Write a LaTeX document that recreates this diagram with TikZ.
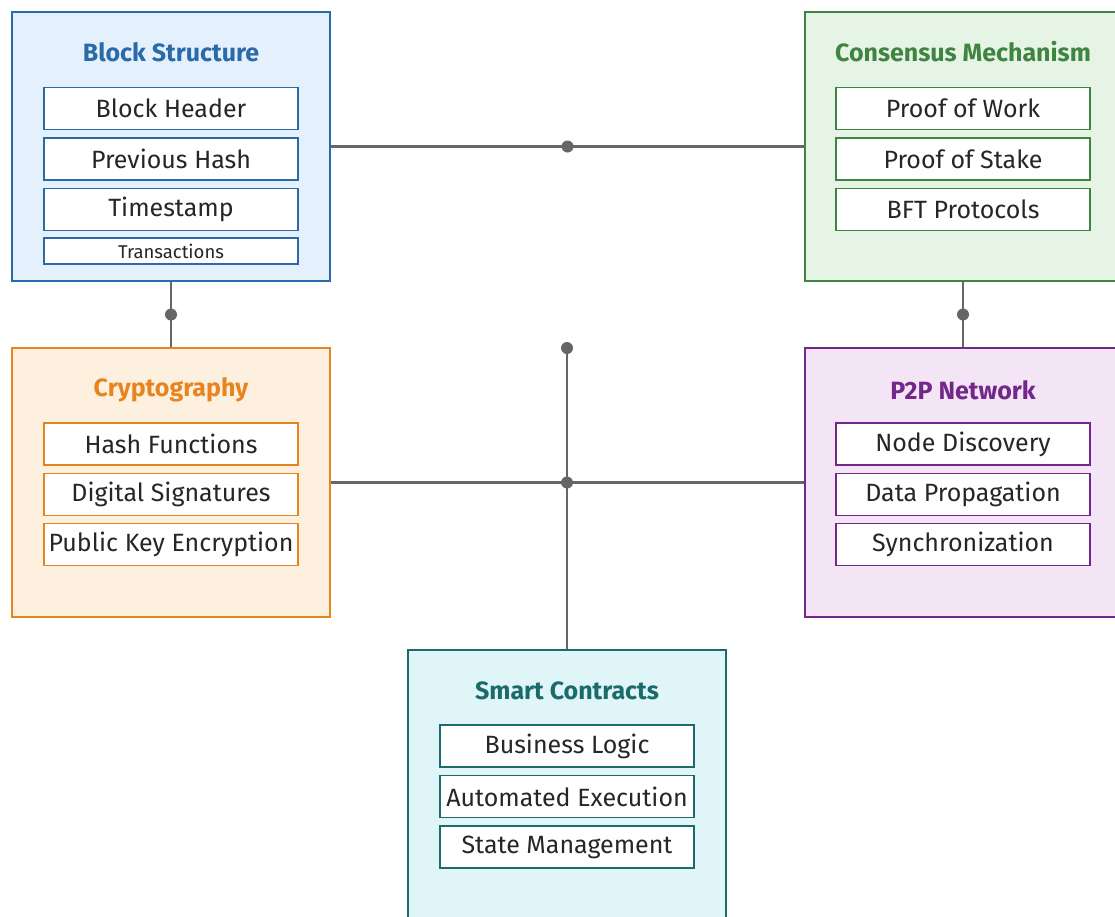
\documentclass[tikz,border=0pt]{standalone}
\usepackage{fontspec}
\setmainfont{Fira Sans}
\begin{document}
\begin{tikzpicture}[x=1pt,y=-1pt,
  box/.style={draw=#1, line width=2.6pt, minimum width=318pt, minimum height=269pt, inner sep=0pt},
  ttl/.style={text=#1, font=\fontsize{25}{28}\selectfont\bfseries, inner sep=0pt},
  item/.style={draw=#1, fill=white, line width=1.3pt, minimum width=254pt, minimum height=42pt, inner sep=0pt, font=\fontsize{25}{28}\selectfont, text=black!85},
  conn/.style={draw=black!60, line width=2.6pt},
  dot/.style={circle, fill=black!60, minimum size=12pt, inner sep=0pt}]
\definecolor{cblue}{HTML}{2A6AA8}
\definecolor{cgreen}{HTML}{3F8440}
\definecolor{corange}{HTML}{E8841F}
\definecolor{cpurple}{HTML}{74278A}
\definecolor{cteal}{HTML}{1C6B6B}
\definecolor{fblue}{HTML}{E4F0FB}
\definecolor{fgreen}{HTML}{E6F4E6}
\definecolor{forange}{HTML}{FDF0DF}
\definecolor{fpurple}{HTML}{F3E5F5}
\definecolor{fteal}{HTML}{E0F5F8}
\useasboundingbox (0,0) rectangle (1115,916);
\fill[white] (0,0) rectangle (1115,916);
\begin{scope}
\clip (0,0) rectangle (1115,916);
% boxes
\node[box=cblue, fill=fblue] (bs) at (171,146.5) {};
\node[box=cgreen, fill=fgreen] (cm) at (964,146.5) {};
\node[box=corange, fill=forange] (cr) at (171,482.5) {};
\node[box=cpurple, fill=fpurple] (pp) at (964,482.5) {};
\node[box=cteal, fill=fteal] (sc) at (567,784.5) {};
% titles
\node[ttl=cblue] (bst) at (171,52) {Block Structure};
\node[ttl=cgreen] (cmt) at (963,52) {Consensus Mechanism};
\node[ttl=corange] (crt) at (171,390) {Cryptography};
\node[ttl=cpurple] (ppt) at (963,390) {P2P Network};
\node[ttl=cteal] (sct) at (567,691) {Smart Contracts};
% items block
\node[item=cblue] (b1) at (171,108.5) {Block Header};
\node[item=cblue] (b2) at (171,159) {Previous Hash};
\node[item=cblue] (b3) at (171,209.5) {Timestamp};
\node[item=cblue, minimum height=26pt, font=\fontsize{18.5}{20}\selectfont] (b4) at (171,251) {Transactions};
% consensus
\node[item=cgreen] (c1) at (963,108.5) {Proof of Work};
\node[item=cgreen] (c2) at (963,159) {Proof of Stake};
\node[item=cgreen] (c3) at (963,209.5) {BFT Protocols};
% crypto
\node[item=corange] (r1) at (171,444) {Hash Functions};
\node[item=corange] (r2) at (171,494.5) {Digital Signatures};
\node[item=corange] (r3) at (171,544.5) {Public Key Encryption};
% p2p
\node[item=cpurple] (p1) at (963,444) {Node Discovery};
\node[item=cpurple] (p2) at (963,494.5) {Data Propagation};
\node[item=cpurple] (p3) at (963,544.5) {Synchronization};
% smart
\node[item=cteal] (s1) at (567,746) {Business Logic};
\node[item=cteal] (s2) at (567,796.5) {Automated Execution};
\node[item=cteal] (s3) at (567,847) {State Management};
% connectors
\coordinate (top) at (567,348);
\path (bs.east) -- (cm.west) coordinate[midway] (m1);
\path (bs.south) -- (cr.north) coordinate[midway] (m2);
\coordinate (m3) at (963,314.5);
\coordinate (m4) at (567,482.5);
\draw[conn] (bs.east) -- (cm.west);
\draw[conn] (bs.south) -- (cr.north);
\draw[conn] (cm.south -| m3) -- (pp.north -| m3);
\draw[conn] (cr.east) -- (pp.west);
\draw[conn] (top) -- (sc.north);
\node[dot] at (m1) {};
\node[dot] at (m2) {};
\node[dot] at (m3) {};
\node[dot] at (m4) {};
\node[dot] at (top) {};
\end{scope}
\end{tikzpicture}
\end{document}
